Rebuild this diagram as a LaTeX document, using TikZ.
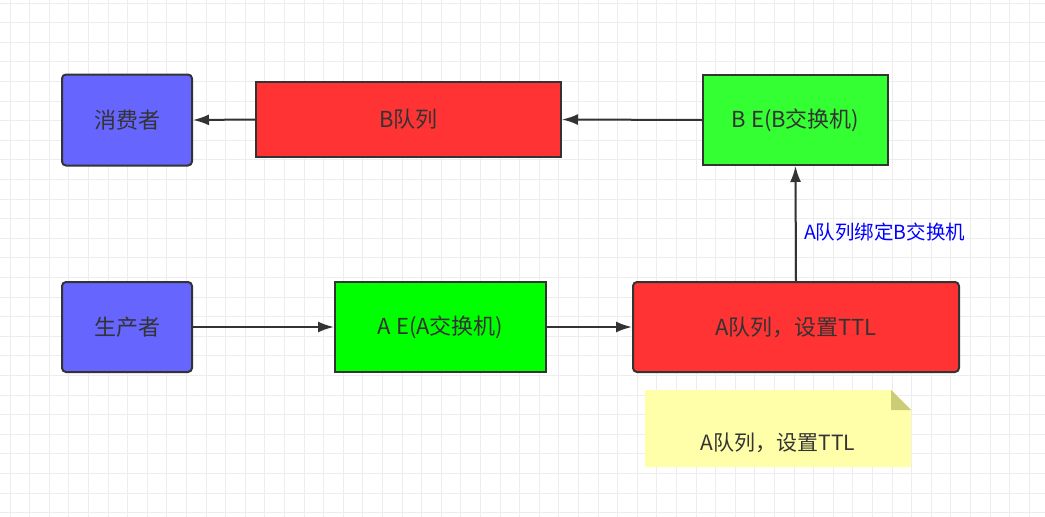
\documentclass[tikz,border=0pt]{standalone}
\usepackage{fontspec}
\setmainfont{Noto Sans CJK SC}
\usetikzlibrary{arrows.meta,positioning}
\definecolor{ink}{HTML}{333333}
\definecolor{gridc}{HTML}{EDEDED}
\definecolor{qblue}{HTML}{6666FF}
\definecolor{qred}{HTML}{FF3333}
\definecolor{qgreen}{HTML}{33FF33}
\definecolor{xgreen}{HTML}{00FF00}
\definecolor{notec}{HTML}{FFFFAA}
\definecolor{foldc}{HTML}{CCCC77}
\tikzset{
	box/.style={draw=ink,line width=2pt,text=ink,font=\fontsize{22}{26}\selectfont,inner sep=0pt},
	flow/.style={draw=ink,line width=2pt,-{Latex[length=16pt,width=11pt]}}
}

\begin{document}
\begin{tikzpicture}[x=1pt,y=-1pt]
		\useasboundingbox (0,0) rectangle (1045,517);
		\fill[white] (0,0) rectangle (1045,517);
		% grid
		\foreach \i in {0,...,53} {
			\draw[gridc,line width=0.8pt] ({10+19.6*\i},0) -- ({10+19.6*\i},517);
		}
		\foreach \j in {0,...,26} {
			\draw[gridc,line width=0.8pt] (0,{3+19.6*\j}) -- (1045,{3+19.6*\j});
		}
		\node[box,fill=qblue,rounded corners=4pt,minimum width=130pt,minimum height=91pt] (consumer) at (127,120) {消费者};
		\node[box,fill=qred,minimum width=305pt,minimum height=75pt] (qB) at (408.5,119.5) {B队列};
		\node[box,fill=qgreen,minimum width=185pt,minimum height=90pt] (exB) at (795.5,120) {B E(B交换机)};
		\node[box,fill=qblue,rounded corners=4pt,minimum width=130pt,minimum height=90pt] (producer) at (127,327) {生产者};
		\node[box,fill=xgreen,minimum width=211pt,minimum height=90pt] (exA) at (440.5,327) {A E(A交换机)};
		\node[box,fill=qred,rounded corners=4pt,minimum width=326pt,minimum height=90pt] (qA) at (796,327) {A队列，设置TTL};
		% note
		\fill[notec] (645,390) -- (891,390) -- (911,410) -- (911,467) -- (645,467) -- cycle;
		\fill[foldc] (891,390) -- (911,410) -- (891,410) -- cycle;
		\node[text=ink,font=\fontsize{21}{25}\selectfont] (note) at (778,443) {A队列，设置TTL};
		\draw[flow] (qB.west) -- (consumer.east);
		\draw[flow] (exB.west) -- (qB.east);
		\draw[flow] (producer.east) -- (exA.west);
		\draw[flow] (exA.east) -- (qA.west);
		\draw[flow] (qA.north) -- (exB.south) node[pos=0.5,right=4pt,yshift=-9pt,text=blue,font=\fontsize{19.5}{23}\selectfont]{A队列绑定B交换机};
	\end{tikzpicture}
\end{document}
